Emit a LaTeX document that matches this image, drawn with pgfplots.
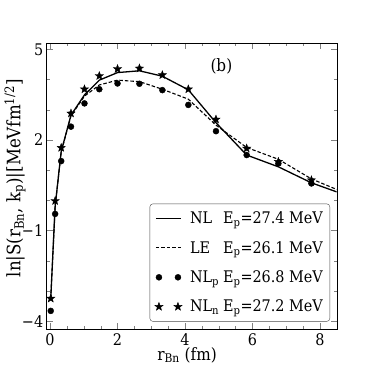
\documentclass[border=0pt]{standalone}
\usepackage{pgfplots}
\pgfplotsset{compat=1.18}
\usepackage{fontspec}
\setmainfont{DejaVu Serif Condensed}

% filled five-point star
\pgfdeclareplotmark{fstar}{%
  \pgfpathmoveto{\pgfpointpolar{90}{\pgfplotmarksize}}%
  \pgfpathlineto{\pgfpointpolar{126}{0.42\pgfplotmarksize}}%
  \pgfpathlineto{\pgfpointpolar{162}{\pgfplotmarksize}}%
  \pgfpathlineto{\pgfpointpolar{198}{0.42\pgfplotmarksize}}%
  \pgfpathlineto{\pgfpointpolar{234}{\pgfplotmarksize}}%
  \pgfpathlineto{\pgfpointpolar{270}{0.42\pgfplotmarksize}}%
  \pgfpathlineto{\pgfpointpolar{306}{\pgfplotmarksize}}%
  \pgfpathlineto{\pgfpointpolar{342}{0.42\pgfplotmarksize}}%
  \pgfpathlineto{\pgfpointpolar{18}{\pgfplotmarksize}}%
  \pgfpathlineto{\pgfpointpolar{54}{0.42\pgfplotmarksize}}%
  \pgfpathclose\pgfusepathqfillstroke}

\pgfplotsset{
  linelegend/.style={legend image code/.code={\draw[##1] (0pt,0pt) -- (25pt,0pt);}},
  marklegend/.style={legend image code/.code={\draw[##1] plot coordinates {(3pt,0pt) (22pt,0pt)};}},
}

\newcommand{\lab}[1]{\makebox[33pt][l]{#1}}

\begin{document}
\begin{tikzpicture}[font=\fontsize{16}{18}\selectfont]
\begin{axis}[
    scale only axis,
    width=290pt, height=286pt,
    xmin=-0.1, xmax=8.5,
    ymin=-4.27, ymax=5.2,
    xtick={0,2,4,6,8}, minor x tick num=3,
    ytick={-4,-1,2,5}, yticklabels={−4,−1,2,5},
    minor y tick num=2,
    tick align=inside,
    major tick length=6pt, minor tick length=3pt,
    /pgf/number format/assume math mode=true,
    xlabel={r\textsubscript{Bn} (fm)},
    ylabel={ln|S(r\textsubscript{Bn}, k\textsubscript{p})|[MeVfm\textsuperscript{1/2}]},
    xlabel style={font=\fontsize{17}{19}\selectfont, at={(axis description cs:0.484,-0.09)}, anchor=center},
    ylabel style={font=\fontsize{18.5}{20}\selectfont, at={(axis description cs:-0.109,0.528)}, anchor=center},
    xticklabel style={yshift=-1pt},
    legend cell align=left,
    legend style={at={(0.977,0.027)}, anchor=south east, rounded corners=3pt,
        draw=black!70, inner xsep=5pt, inner ysep=6pt, row sep=12pt, column sep=6pt},
]
\addplot[black, line width=1.3pt, linelegend]
coordinates {(0.02,-3.25)(0.15,-0.2)(0.33,1.62)(0.62,2.82)(1.02,3.49)(1.46,3.98)(2.0,4.23)(2.65,4.29)(3.33,4.11)(4.1,3.66)(4.92,2.57)(5.83,1.50)(6.77,1.11)(7.75,0.58)(8.5,0.28)};
\addlegendentry{\lab{NL}E\textsubscript{p}=27.4 MeV}
\addplot[black, line width=1.1pt, dash pattern=on 3.5pt off 2pt, linelegend]
coordinates {(0.02,-3.25)(0.15,-0.2)(0.33,1.6)(0.62,2.8)(1.02,3.45)(1.46,3.82)(2.0,3.98)(2.65,3.93)(3.33,3.68)(4.1,3.35)(4.92,2.49)(5.83,1.75)(6.77,1.36)(7.75,0.71)(8.5,0.36)};
\addlegendentry{\lab{LE}E\textsubscript{p}=26.1 MeV}
\addplot[only marks, mark=*, mark size=3pt, black, marklegend]
coordinates {(0.02,-3.66)(0.15,-0.45)(0.33,1.30)(0.62,2.44)(1.02,3.21)(1.46,3.68)(2.0,3.87)(2.65,3.86)(3.33,3.65)(4.1,3.16)(4.92,2.29)(5.83,1.50)(6.77,1.22)(7.75,0.56)};
\addlegendentry{\lab{NL\textsubscript{p}}E\textsubscript{p}=26.8 MeV}
\addplot[only marks, mark=fstar, mark size=4.3pt, black, marklegend]
coordinates {(0.02,-3.25)(0.15,-0.02)(0.33,1.74)(0.62,2.88)(1.02,3.68)(1.46,4.12)(2.0,4.35)(2.65,4.37)(3.33,4.15)(4.1,3.68)(4.92,2.68)(5.83,1.72)(6.77,1.28)(7.75,0.67)};
\addlegendentry{\lab{NL\textsubscript{n}}E\textsubscript{p}=27.2 MeV}
\node[font=\fontsize{17}{19}\selectfont] at (axis cs:5.08,4.42) {(b)};
\end{axis}
\pgfresetboundingbox
\path[use as bounding box] (-46.7pt,-41.7pt) rectangle (327.3pt,329.3pt);
\end{tikzpicture}
\end{document}
